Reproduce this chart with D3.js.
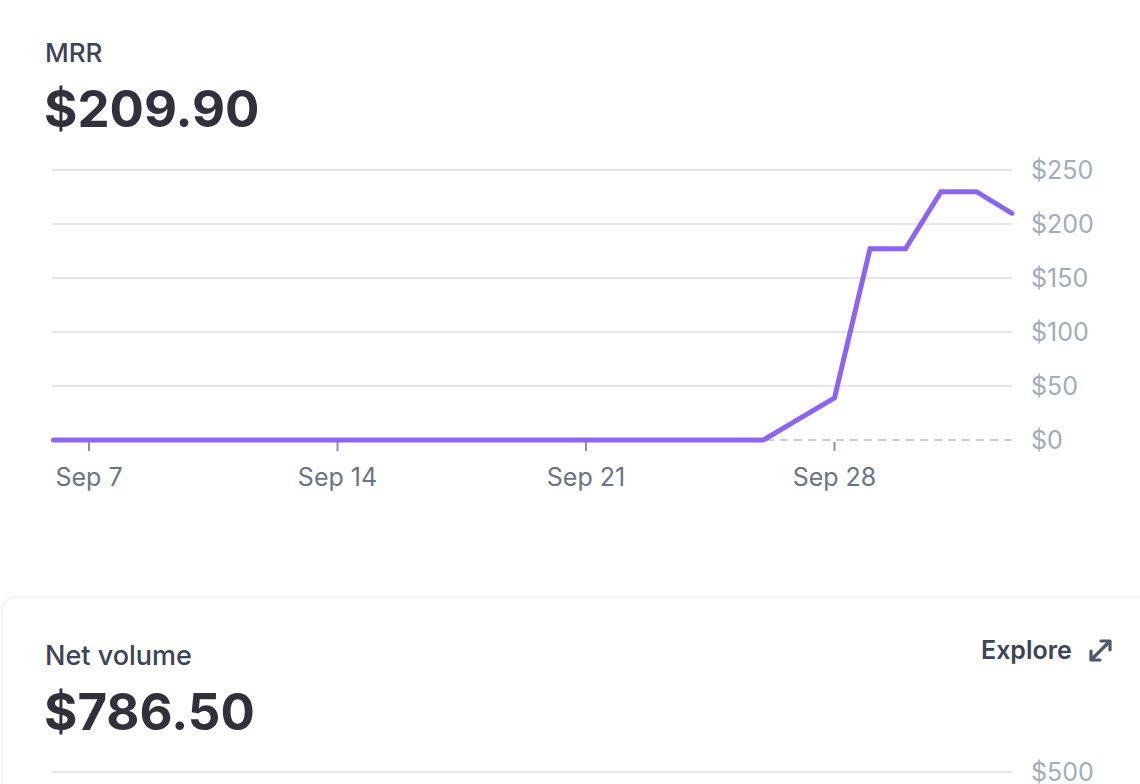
<!DOCTYPE html>
<html>
<head>
<meta charset="utf-8">
<script src="https://cdn.jsdelivr.net/npm/d3@7"></script>
<style>
  html, body { margin: 0; padding: 0; background: #ffffff; }
  svg { display: block; font-family: Inter, "Noto Sans", sans-serif; }
</style>
</head>
<body>
<svg id="chart" width="1140" height="784"></svg>
<script>
// ---- data ----
const dates = [
  "2023-09-06","2023-09-07","2023-09-08","2023-09-09","2023-09-10","2023-09-11","2023-09-12",
  "2023-09-13","2023-09-14","2023-09-15","2023-09-16","2023-09-17","2023-09-18","2023-09-19",
  "2023-09-20","2023-09-21","2023-09-22","2023-09-23","2023-09-24","2023-09-25","2023-09-26",
  "2023-09-27","2023-09-28","2023-09-29","2023-09-30","2023-10-01","2023-10-02","2023-10-03"
];
const mrrValues = [
  0,0,0,0,0,0,0,
  0,0,0,0,0,0,0,
  0,0,0,0,0,0,0,
  19.5,39,177,177,229.9,229.9,209.9
];
const xTickDates = ["2023-09-07","2023-09-14","2023-09-21","2023-09-28"];
const yTicks = [0,50,100,150,200,250];
const mrrTitle = "MRR";
const mrrTotal = "$209.90";
const netTitle = "Net volume";
const netTotal = "$786.50";
const netTopTick = "$500";
const exploreLabel = "Explore";

// ---- drawing ----
const parse = d3.timeParse("%Y-%m-%d");
const data = dates.map((d, i) => ({ date: parse(d), value: mrrValues[i] }));
const svg = d3.select("#chart");

const x = d3.scaleTime()
  .domain([parse(dates[0]), parse(dates[dates.length - 1])])
  .range([53.5, 1012]);
const y = d3.scaleLinear().domain([0, 250]).range([440, 170]);

const gridLeft = 52, gridRight = 1012;

// gridlines (excluding zero line)
svg.append("g").selectAll("line")
  .data(yTicks.filter(t => t !== 0))
  .join("line")
  .attr("x1", gridLeft).attr("x2", gridRight)
  .attr("y1", d => y(d)).attr("y2", d => y(d))
  .attr("stroke", "#e3e8ee").attr("stroke-width", 2);

// dashed zero baseline
svg.append("line")
  .attr("x1", gridLeft).attr("x2", gridRight)
  .attr("y1", y(0)).attr("y2", y(0))
  .attr("stroke", "#c8cfd8").attr("stroke-width", 2)
  .attr("stroke-dasharray", "8,6");

// y labels
svg.append("g").selectAll("text")
  .data(yTicks)
  .join("text")
  .attr("x", 1031).attr("y", d => y(d) + 9)
  .attr("font-size", 25).attr("fill", "#a3acb9")
  .text(d => "$" + d);

// x ticks
const xt = svg.append("g");
xt.selectAll("line")
  .data(xTickDates.map(parse))
  .join("line")
  .attr("x1", d => x(d)).attr("x2", d => x(d))
  .attr("y1", 442).attr("y2", 451)
  .attr("stroke", "#8792a2").attr("stroke-width", 2);
xt.selectAll("text")
  .data(xTickDates.map(parse))
  .join("text")
  .attr("x", d => x(d)).attr("y", 486)
  .attr("text-anchor", "middle")
  .attr("font-size", 25).attr("fill", "#697386")
  .text(d => d3.timeFormat("%b %-d")(d));

// line
const line = d3.line().x(d => x(d.date)).y(d => y(d.value));
svg.append("path")
  .datum(data)
  .attr("d", line)
  .attr("fill", "none")
  .attr("stroke", "#8d63f2")
  .attr("stroke-width", 5)
  .attr("stroke-linejoin", "miter")
  .attr("stroke-linecap", "round");

// titles
svg.append("text").attr("x", 45).attr("y", 62)
  .attr("font-size", 26).attr("font-weight", 500).attr("fill", "#3c4257")
  .text(mrrTitle);
svg.append("text").attr("x", 44).attr("y", 127)
  .attr("font-size", 51).attr("font-weight", 700).attr("fill", "#30313d")
  .text(mrrTotal);

// second card
svg.append("rect")
  .attr("x", 2).attr("y", 597).attr("width", 1170).attr("height", 300)
  .attr("rx", 14).attr("fill", "#ffffff")
  .attr("stroke", "#f1f2f5").attr("stroke-width", 1.5);

svg.append("text").attr("x", 45).attr("y", 665)
  .attr("font-size", 27).attr("font-weight", 500).attr("fill", "#3c4257")
  .text(netTitle);
svg.append("text").attr("x", 44).attr("y", 730)
  .attr("font-size", 51).attr("font-weight", 700).attr("fill", "#30313d")
  .text(netTotal);

svg.append("text").attr("x", 981).attr("y", 659)
  .attr("font-size", 25).attr("font-weight", 600).attr("fill", "#3c4257")
  .text(exploreLabel);

// expand icon
const ic = svg.append("g").attr("stroke", "#4f566b").attr("stroke-width", 3.2)
  .attr("fill", "none").attr("stroke-linecap", "round").attr("stroke-linejoin", "round");
ic.append("path").attr("d", "M1092,659 L1109,642");
ic.append("path").attr("d", "M1101,641 L1110,641 L1110,650");
ic.append("path").attr("d", "M1091,651 L1091,660 L1100,660");

const y2 = d3.scaleLinear().domain([0, 500]).range([1000, 772]);
svg.append("line")
  .attr("x1", gridLeft).attr("x2", gridRight)
  .attr("y1", y2(500)).attr("y2", y2(500))
  .attr("stroke", "#e3e8ee").attr("stroke-width", 2);
svg.append("text").attr("x", 1031).attr("y", y2(500) + 9)
  .attr("font-size", 25).attr("fill", "#a3acb9")
  .text(netTopTick);
</script>
</body>
</html>
